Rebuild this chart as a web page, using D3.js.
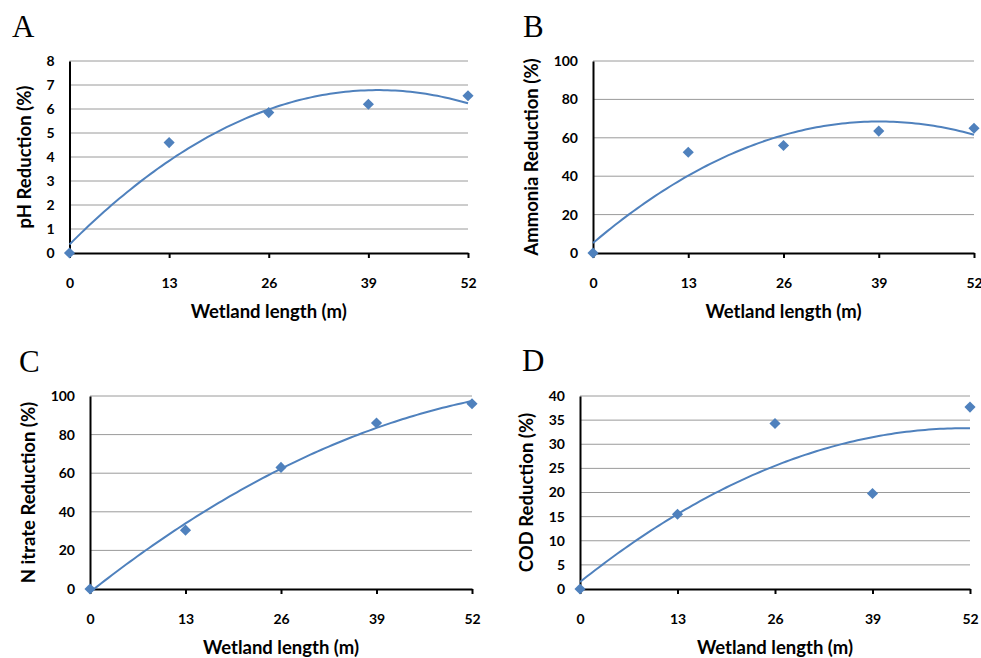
<!DOCTYPE html>
<html>
<head>
<meta charset="utf-8">
<script src="https://cdn.jsdelivr.net/npm/d3@7"></script>
<style>
  body { margin: 0; background: #fff; }
  svg { display: block; }
  .tick text { font-family: Lato, "Open Sans", sans-serif; font-weight: bold; font-size: 14px; fill: #000; }
  .title { font-family: Lato, "Open Sans", sans-serif; font-weight: bold; font-size: 18.5px; fill: #000; }
  .letter { font-family: "Liberation Serif", "DejaVu Serif", serif; font-size: 31px; fill: #000; }
</style>
</head>
<body>
<svg id="chart" width="981" height="658"></svg>
<script>
// wetland length (m) shared by all four panels
var lengths = [0, 13, 26, 39, 52];

// reduction (%)
var phReduction      = [0, 4.6, 5.85, 6.2, 6.55];
var ammoniaReduction = [0, 52.5, 56, 63.5, 65];
var nitrateReduction = [0, 30.5, 63, 86, 96];
var codReduction     = [0, 15.5, 34.3, 19.8, 37.7];

var phTicks      = [0, 1, 2, 3, 4, 5, 6, 7, 8];
var ammoniaTicks = [0, 20, 40, 60, 80, 100];
var nitrateTicks = [0, 20, 40, 60, 80, 100];
var codTicks     = [0, 5, 10, 15, 20, 25, 30, 35, 40];

var letters = ["A", "B", "C", "D"];
var yTitles = ["pH Reduction (%)", "Ammonia Reduction (%)", "N itrate Reduction (%)", "COD Reduction (%)"];
var xTitle = "Wetland length (m)";

var svg = d3.select("#chart");
var blue = "#4f81bd";

// pixel box of each plot area
var panels = [
  {values: phReduction,      ticks: phTicks,      left: 69.5, right: 468, top: 61,  bottom: 253, lx: 12,  ly: 37,  tx: 25},
  {values: ammoniaReduction, ticks: ammoniaTicks, left: 593,  right: 974, top: 61,  bottom: 253, lx: 523, ly: 37,  tx: 532},
  {values: nitrateReduction, ticks: nitrateTicks, left: 90,   right: 472, top: 396, bottom: 589, lx: 19,  ly: 372, tx: 29},
  {values: codReduction,     ticks: codTicks,     left: 580,  right: 970, top: 396, bottom: 589, lx: 522, ly: 371, tx: 527}
];

// least squares quadratic, like the excel trendline
function quadFit(xs, ys) {
  var n = xs.length, s = [0, 0, 0, 0, 0], t = [0, 0, 0];
  for (var i = 0; i < n; i++) {
    var p = 1;
    for (var k = 0; k < 5; k++) { s[k] += p; if (k < 3) t[k] += p * ys[i]; p *= xs[i]; }
  }
  var m = [[s[0], s[1], s[2], t[0]], [s[1], s[2], s[3], t[1]], [s[2], s[3], s[4], t[2]]];
  for (var c = 0; c < 3; c++) {
    for (var r = c + 1; r < 3; r++) {
      var f = m[r][c] / m[c][c];
      for (var j = c; j < 4; j++) m[r][j] -= f * m[c][j];
    }
  }
  var coef = [0, 0, 0];
  for (var r2 = 2; r2 >= 0; r2--) {
    var v = m[r2][3];
    for (var j2 = r2 + 1; j2 < 3; j2++) v -= m[r2][j2] * coef[j2];
    coef[r2] = v / m[r2][r2];
  }
  return function(x) { return coef[0] + coef[1] * x + coef[2] * x * x; };
}

panels.forEach(function(p, i) {
  var x = d3.scaleLinear().domain([0, 52]).range([p.left, p.right]);
  var y = d3.scaleLinear().domain([0, d3.max(p.ticks)]).range([p.bottom, p.top]);
  var g = svg.append("g");

  // gridlines
  g.selectAll(".grid")
    .data(p.ticks.slice(1))
    .enter().append("line")
    .attr("x1", p.left).attr("x2", p.right)
    .attr("y1", function(d) { return y(d); })
    .attr("y2", function(d) { return y(d); })
    .attr("stroke", "#9a9a9a")
    .attr("stroke-width", 1);

  // y axis
  var yAxis = g.append("g")
    .attr("transform", "translate(" + p.left + ",0)")
    .call(d3.axisLeft(y).tickValues(p.ticks).tickSize(0).tickPadding(15));
  yAxis.select(".domain").attr("stroke", "#000").attr("stroke-width", 2);

  // x axis
  var xAxis = g.append("g")
    .attr("transform", "translate(0," + p.bottom + ")")
    .call(d3.axisBottom(x).tickValues(lengths).tickSizeInner(5).tickSizeOuter(0).tickPadding(20));
  xAxis.select(".domain").attr("stroke", "#000").attr("stroke-width", 2);
  xAxis.selectAll(".tick line").attr("stroke", "#000").attr("stroke-width", 2);

  // trendline
  var fit = quadFit(lengths, p.values);
  var line = d3.line()
    .x(function(d) { return x(d); })
    .y(function(d) { return y(fit(d)); });
  g.append("path")
    .datum(d3.range(0, 52.01, 0.5))
    .attr("d", line)
    .attr("fill", "none")
    .attr("stroke", blue)
    .attr("stroke-width", 2);

  // markers
  g.selectAll(".pt")
    .data(p.values)
    .enter().append("path")
    .attr("d", d3.symbol(d3.symbolSquare, 62)())
    .attr("transform", function(d, k) { return "translate(" + x(lengths[k]) + "," + y(d) + ") rotate(45)"; })
    .attr("fill", blue);

  // titles
  g.append("text")
    .attr("class", "title")
    .attr("x", (p.left + p.right) / 2)
    .attr("y", p.bottom + 65)
    .attr("text-anchor", "middle")
    .text(xTitle);

  g.append("text")
    .attr("class", "title")
    .attr("transform", "translate(" + p.tx + "," + (p.top + p.bottom) / 2 + ") rotate(-90)")
    .attr("text-anchor", "middle")
    .attr("dy", "0.35em")
    .text(yTitles[i]);

  g.append("text")
    .attr("class", "letter")
    .attr("x", p.lx)
    .attr("y", p.ly)
    .text(letters[i]);
});
</script>
</body>
</html>
